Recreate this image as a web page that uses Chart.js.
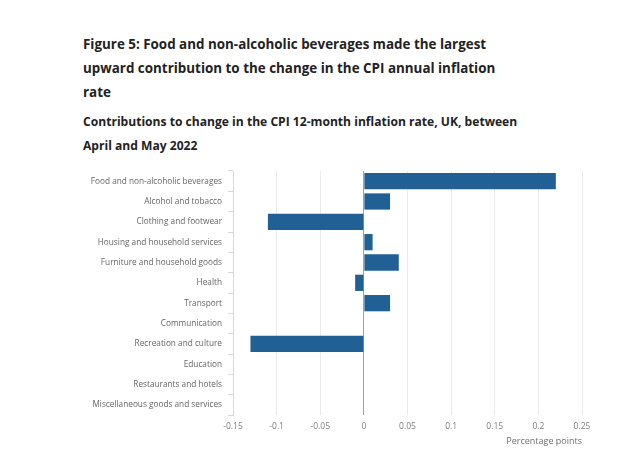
<!DOCTYPE html>
<html>
<head>
<meta charset="utf-8">
<script src="https://cdn.jsdelivr.net/npm/chart.js@4/dist/chart.umd.min.js"></script>
<style>
  body { margin: 0; width: 633px; height: 470px; background: #fff; font-family: "Open Sans", sans-serif; position: relative; overflow: hidden; }
  h1 { position: absolute; left: 83px; top: 32px; margin: 0; font-size: 13.4px; line-height: 24px; font-weight: 700; color: #222; width: 432px; }
  h2 { position: absolute; left: 83px; top: 110px; margin: 0; font-size: 12.1px; line-height: 24px; font-weight: 700; color: #222; width: 460px; }
  #wrap { position: absolute; left: 0; top: 160px; width: 633px; height: 300px; }
</style>
</head>
<body>
<h1>Figure 5: Food and non-alcoholic beverages made the largest upward contribution to the change in the CPI annual inflation rate</h1>
<h2>Contributions to change in the CPI 12-month inflation rate, UK, between April and May 2022</h2>
<div id="wrap"><canvas id="chart"></canvas></div>
<script>
// categories and contributions (percentage points)
const categories = [
  'Food and non-alcoholic beverages',
  'Alcohol and tobacco',
  'Clothing and footwear',
  'Housing and household services',
  'Furniture and household goods',
  'Health',
  'Transport',
  'Communication',
  'Recreation and culture',
  'Education',
  'Restaurants and hotels',
  'Miscellaneous goods and services'
];
const contributions = [0.22, 0.03, -0.11, 0.01, 0.04, -0.01, 0.03, 0, -0.13, 0, 0, 0];
const xTicks = [-0.15, -0.1, -0.05, 0, 0.05, 0.1, 0.15, 0.2, 0.25];

new Chart(document.getElementById('chart'), {
  type: 'bar',
  data: {
    labels: categories,
    datasets: [{
      data: contributions,
      backgroundColor: '#206095',
      barPercentage: 0.8,
      categoryPercentage: 1
    }]
  },
  options: {
    indexAxis: 'y',
    responsive: true,
    maintainAspectRatio: false,
    animation: false,
    layout: { padding: { top: 11, right: 51, bottom: 0, left: 0 } },
    plugins: { legend: { display: false }, tooltip: { enabled: false } },
    scales: {
      x: {
        min: -0.15,
        max: 0.25,
        afterFit: s => { s.height = 45; },
        afterBuildTicks: s => { s.ticks = xTicks.map(v => ({ value: v })); },
        grid: {
          color: c => (c.tick && c.tick.value === 0) ? '#a0a0a0' : '#ebebeb',
          tickLength: 0,
          drawTicks: false
        },
        border: { display: false },
        ticks: {
          padding: 6,
          color: '#808080',
          font: { family: 'Open Sans', size: 8.5 },
          callback: v => String(v)
        },
        title: {
          display: true,
          text: 'Percentage points',
          align: 'end',
          color: '#707070',
          font: { family: 'Open Sans', size: 9 },
          padding: { top: 4, bottom: 13 }
        }
      },
      y: {
        afterFit: s => { s.width = 233; },
        grid: {
          offset: true,
          drawOnChartArea: false,
          tickLength: 5,
          color: '#d8d8d8'
        },
        border: { display: true, color: '#d8d8d8' },
        ticks: {
          padding: 6,
          color: '#666',
          font: { family: 'Open Sans', size: 8.25 }
        }
      }
    }
  }
});
</script>
</body>
</html>
